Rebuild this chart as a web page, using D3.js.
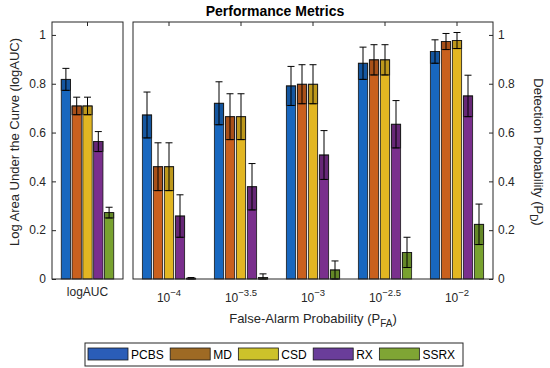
<!DOCTYPE html>
<html><head><meta charset="utf-8">
<script src="https://cdn.jsdelivr.net/npm/d3@7"></script>
<style>body{margin:0;background:#fff}svg{font-family:Arial,"Liberation Sans",sans-serif}</style>
</head><body><svg id="c" width="550" height="368"></svg>
<script>
const series = ["PCBS","MD","CSD","RX","SSRX"];
const barColors = ["#1867BF","#C9601E","#E2B622","#7A2F8D","#78A22F"];
const legendColors = ["#2A5DB8","#9E6A24","#CDC22A","#6A3D9A","#7FA534"];
const aucValues = [0.818, 0.709, 0.709, 0.563, 0.272];
const aucErrors = [0.045, 0.036, 0.036, 0.041, 0.022];
const pfaExponents = ["\u22124","\u22123.5","\u22123","\u22122.5","\u22122"];
// detection probability per PFA group, per series (PCBS, MD, CSD, RX, SSRX)
const pdValues = [
  [0.672, 0.460, 0.460, 0.258, 0.003],
  [0.720, 0.665, 0.665, 0.378, 0.006],
  [0.791, 0.798, 0.798, 0.508, 0.037],
  [0.884, 0.898, 0.898, 0.634, 0.109],
  [0.932, 0.973, 0.977, 0.750, 0.224]
];
const pdErrors = [
  [0.094, 0.098, 0.098, 0.087, 0.003],
  [0.088, 0.094, 0.094, 0.095, 0.015],
  [0.080, 0.080, 0.080, 0.100, 0.037],
  [0.066, 0.062, 0.062, 0.097, 0.062],
  [0.048, 0.033, 0.033, 0.085, 0.083]
];
const yTicks = [0, 0.2, 0.4, 0.6, 0.8, 1];

const svg = d3.select("#c");
const plotTop = 22, plotBottom = 279;
const y = d3.scaleLinear().domain([0, 1.053]).range([plotBottom, plotTop]);
const leftX0 = 52, leftX1 = 123, mainX0 = 133, mainX1 = 493;
const fmt = d => d === 0 ? "0" : d === 1 ? "1" : d3.format(".1f")(d);

const xLeft = d3.scaleBand().domain(["logAUC"]).range([leftX0, leftX1]);
const xMain = d3.scaleBand().domain(pfaExponents).range([mainX0, mainX1]);
const pitchL = 10.8, pitchM = 11, bw = 9.3;

function drawGroup(cx, vals, errs, pitch) {
  const g = svg.append("g");
  const inner = d3.scaleBand().domain(series).range([cx - pitch*2.5, cx + pitch*2.5]);
  vals.forEach((v, i) => {
    const x0 = inner(series[i]) + (pitch - bw)/2;
    g.append("rect").attr("x", x0).attr("y", y(v)).attr("width", bw).attr("height", y(0) - y(v))
      .attr("fill", barColors[i]).attr("stroke", "#1a1a1a").attr("stroke-width", 0.8);
    const lo = Math.max(0, v - errs[i]);
    g.append("rect").attr("x", x0).attr("y", y(v)).attr("width", bw).attr("height", y(lo) - y(v))
      .attr("fill", "#000").attr("fill-opacity", 0.16).attr("stroke", "#1a1a1a").attr("stroke-width", 0.8);
    const c = x0 + bw/2;
    g.append("line").attr("x1", c).attr("x2", c).attr("y1", y(v + errs[i])).attr("y2", y(lo)).attr("stroke", "#000").attr("stroke-width", 1);
    [v + errs[i], lo].forEach(e => g.append("line").attr("x1", c - 3.5).attr("x2", c + 3.5).attr("y1", y(e)).attr("y2", y(e)).attr("stroke", "#000").attr("stroke-width", 1));
  });
}
drawGroup(xLeft("logAUC") + xLeft.bandwidth()/2, aucValues, aucErrors, pitchL);
pfaExponents.forEach((p, k) => drawGroup(xMain(p) + xMain.bandwidth()/2, pdValues[k], pdErrors[k], pitchM));

// Boxes
const ax = svg.append("g").attr("fill", "none").attr("stroke", "#262626").attr("stroke-width", 1);
ax.append("rect").attr("x", leftX0).attr("y", plotTop).attr("width", leftX1 - leftX0).attr("height", plotBottom - plotTop);
ax.append("rect").attr("x", mainX0).attr("y", plotTop).attr("width", mainX1 - mainX0).attr("height", plotBottom - plotTop);

// Left axis (inward ticks)
const leftAxis = svg.append("g").attr("transform", `translate(${leftX0},0)`)
  .call(d3.axisRight(y).tickValues(yTicks).tickSize(4).tickFormat(""));
leftAxis.select(".domain").remove();
leftAxis.selectAll("line").attr("stroke", "#262626");
svg.append("g").selectAll("text").data(yTicks).join("text")
  .attr("x", 46).attr("y", d => y(d)).attr("dy", "0.35em").attr("text-anchor", "end")
  .attr("font-size", 12).attr("fill", "#262626").text(fmt);

// Right axis
const rightAxis = svg.append("g").attr("transform", `translate(${mainX1},0)`)
  .call(d3.axisLeft(y).tickValues(yTicks).tickSize(4).tickFormat(""));
rightAxis.select(".domain").remove();
rightAxis.selectAll("line").attr("stroke", "#262626");
svg.append("g").selectAll("text").data(yTicks).join("text")
  .attr("x", 498).attr("y", d => y(d)).attr("dy", "0.35em").attr("text-anchor", "start")
  .attr("font-size", 12).attr("fill", "#262626").text(fmt);

// Top ticks
function xTicks(scale, names) {
  names.forEach(n => {
    const c = scale(n) + scale.bandwidth()/2;
    svg.append("line").attr("x1", c).attr("x2", c).attr("y1", plotTop).attr("y2", plotTop + 4).attr("stroke", "#262626");
  });
}
xTicks(xLeft, ["logAUC"]);
xTicks(xMain, pfaExponents);

// X tick labels
svg.append("text").attr("x", xLeft("logAUC") + xLeft.bandwidth()/2).attr("y", 296).attr("text-anchor", "middle")
  .attr("font-size", 12).attr("fill", "#262626").text("logAUC");
pfaExponents.forEach(p => {
  const t = svg.append("text").attr("x", xMain(p) + xMain.bandwidth()/2).attr("y", 302).attr("text-anchor", "middle")
    .attr("font-size", 12).attr("fill", "#262626");
  t.append("tspan").text("10");
  t.append("tspan").attr("font-size", 9.5).attr("dy", -6).text(p);
});

// Axis titles
const xt = svg.append("text").attr("x", (mainX0 + mainX1)/2).attr("y", 323).attr("text-anchor", "middle")
  .attr("font-size", 13).attr("fill", "#262626");
xt.append("tspan").text("False-Alarm Probability (P");
xt.append("tspan").attr("font-size", 10).attr("dy", 4).text("FA");
xt.append("tspan").attr("dy", -4).text(")");

svg.append("text").attr("transform", "translate(19,142) rotate(-90)").attr("text-anchor", "middle")
  .attr("font-size", 13).attr("fill", "#262626").text("Log Area Under the Curve (logAUC)");
const rt = svg.append("text").attr("transform", "translate(534,152) rotate(90)").attr("text-anchor", "middle")
  .attr("font-size", 13).attr("fill", "#262626");
rt.append("tspan").text("Detection Probability (P");
rt.append("tspan").attr("font-size", 10).attr("dy", 4).text("D");
rt.append("tspan").attr("dy", -4).text(")");

// Title
svg.append("text").attr("x", 275).attr("y", 16).attr("text-anchor", "middle")
  .attr("font-size", 14).attr("font-weight", "bold").attr("fill", "#000").text("Performance Metrics");

// Legend
const lg = svg.append("g");
lg.append("rect").attr("x", 85).attr("y", 343).attr("width", 378).attr("height", 23)
  .attr("fill", "#fff").attr("stroke", "#262626").attr("stroke-width", 1);
let lx = 88;
series.forEach((s, i) => {
  lg.append("rect").attr("x", lx).attr("y", 348).attr("width", 40).attr("height", 12)
    .attr("fill", legendColors[i]).attr("stroke", "#1a1a1a").attr("stroke-width", 0.8);
  const t = lg.append("text").attr("x", lx + 43).attr("y", 358.5).attr("font-size", 12).attr("fill", "#000").text(s);
  lx = lx + 43 + t.node().getComputedTextLength() + 6.5;
});
</script></body></html>
